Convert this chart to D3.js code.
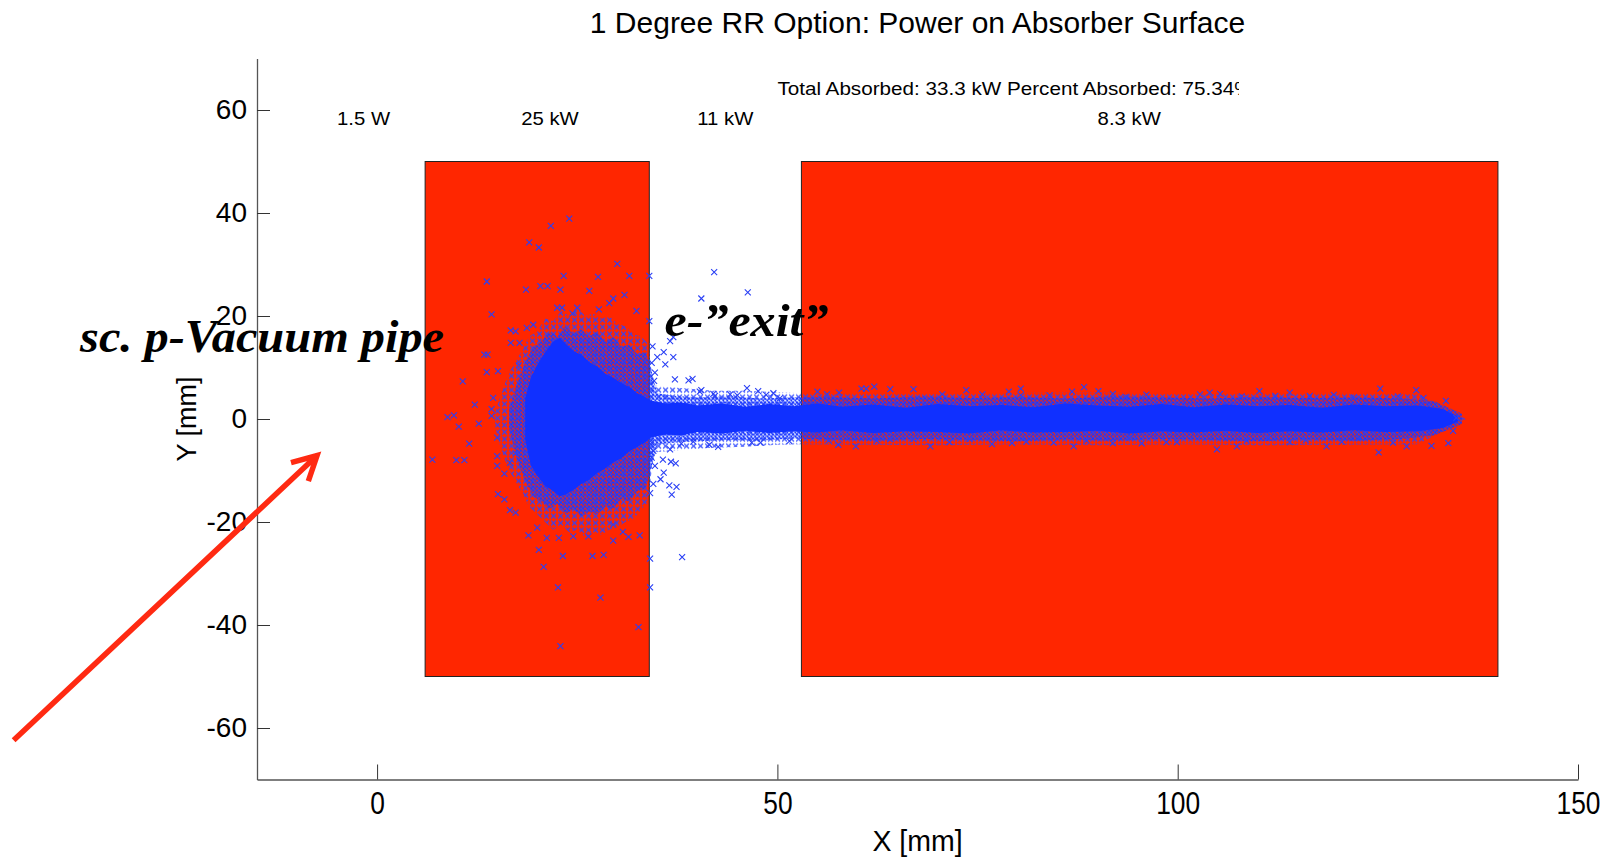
<!DOCTYPE html>
<html>
<head>
<meta charset="utf-8">
<script src="https://cdn.jsdelivr.net/npm/d3@7"></script>
<style>
  body { margin: 0; background: #fff; }
  svg { display: block; font-family: "Liberation Sans", Arial, sans-serif; }
</style>
</head>
<body>
<svg width="1610" height="860"></svg>
<script>
// absorber blocks [mm]
var blockX0 = [6, 53],
    blockX1 = [34, 140],
    blockY0 = [-50, -50],
    blockY1 = [50, 50];

var xTicks = [0, 50, 100, 150],
    yTicks = [-60, -40, -20, 0, 20, 40, 60];

var powerLabels = ['1.5 W', '25 kW', '11 kW', '8.3 kW'],
    powerLabelX = [-5, 18, 40, 90];

// where the hits pile up so thick they read as solid blue
var coreX  = [18.5, 19.2, 20, 21, 22, 22.8, 23.6, 24.5, 25.5, 26.5, 27.5, 28.5, 29.5, 30.5, 31.5, 32.5, 33.5, 34.2, 36, 38, 40, 43, 46, 49, 52, 55, 58, 62, 66, 70, 74, 78, 82, 86, 90, 94, 98, 102, 106, 110, 114, 118, 122, 126, 130, 133, 135],
    coreHi = [4, 8, 10.5, 13, 15, 15.8, 14.5, 13.2, 12.5, 11, 10.2, 8.8, 8, 7, 6.2, 5, 4.2, 3.6, 3, 3.2, 2.6, 3, 2.4, 2.9, 2.5, 3, 2.4, 2.8, 2.2, 2.9, 2.5, 2.7, 2.3, 3, 2.6, 2.4, 2.9, 2.3, 2.8, 2.5, 2.7, 2.2, 2.8, 2.5, 2.6, 2, 0.5],
    coreLo = [-4, -9, -11, -13, -14, -15, -14.6, -13.8, -12.6, -11.8, -10.5, -9.6, -8.4, -7.6, -6.3, -5.4, -4.5, -3.6, -3, -3.2, -2.5, -2.8, -2.3, -2.7, -2.4, -2.6, -2.2, -2.7, -2.4, -2.5, -2.8, -2.2, -2.6, -2.5, -2.3, -2.8, -2.4, -2.6, -2.3, -2.7, -2.4, -2.6, -2.2, -2.5, -2.4, -1.8, -0.5];

// thick overlapping crosses round the core
var midX  = [16.5, 17.5, 18.5, 19.5, 20.5, 21.5, 22.5, 23.5, 24.5, 25.5, 26.5, 27.5, 28.5, 29.5, 30.5, 31.5, 32.5, 33.5, 34, 35, 37, 40, 44, 48, 52, 56, 62, 68, 74, 80, 86, 92, 98, 104, 110, 116, 122, 128, 132, 135.5],
    midHi = [2, 7, 11, 14, 15, 17, 16, 18, 16.5, 17.5, 16, 17, 15, 16, 14, 14.5, 12.5, 13, 11, 5, 4.5, 4.2, 4.4, 4.0, 4.2, 4.3, 4.0, 4.4, 4.1, 4.3, 4.0, 4.4, 4.2, 4.0, 4.3, 4.1, 4.2, 4.0, 3.5, 1],
    midLo = [-2, -8, -12, -15, -16, -17.5, -16.5, -18.5, -17.5, -19, -18, -18.5, -17, -17.5, -15.5, -16, -14, -13.5, -11, -5, -4.6, -4.3, -4.1, -4.2, -3.8, -4.0, -4.2, -3.9, -4.1, -4.3, -4.0, -4.2, -3.9, -4.1, -4.3, -4.0, -4.2, -3.9, -3.2, -1];

// thin fringe of crosses
var haloX  = [14.5, 15.5, 16.5, 18, 19, 20, 21, 22, 23, 24, 25, 26, 27, 28, 29, 30, 31, 32, 33, 33.9, 34.5, 38, 42, 46, 50, 53, 60, 70, 80, 90, 100, 110, 120, 130, 136],
    haloHi = [0, 5, 9, 13, 16, 17, 19.5, 19, 21, 20, 21.5, 20, 20.5, 19.5, 20, 18.5, 18, 16.5, 16, 14.5, 6.5, 6, 5.5, 5.5, 5.2, 5, 5, 4.9, 5.1, 5.2, 4.9, 5, 5.1, 4.8, 0],
    haloLo = [0, -6, -10, -14, -17, -18.5, -20, -21.5, -20.5, -22, -21.5, -23, -22, -22.5, -21.5, -21, -20, -19.5, -17.5, -16, -6.5, -6, -5.6, -5.4, -5, -4.9, -5, -5.1, -4.9, -5.1, -4.9, -5.1, -5, -4.9, 0];

// single hits away from the cloud
var hitX = [21.7, 24.0, 19.0, 20.2, 30.0, 13.7, 23.3, 27.6, 31.5, 34.0, 18.6, 20.4, 21.3, 22.9, 26.5, 30.9, 14.3, 16.7, 29.0, 29.5,
            25.0, 22.5, 23.1, 24.4, 27.7, 32.4, 34.0, 16.7, 17.8, 18.7, 19.5, 17.3, 13.4, 13.8, 13.7, 15.1, 17.7, 10.7, 12.2, 14.5,
            14.3, 14.3, 8.8, 9.6, 10.2, 12.7, 11.5, 6.9, 9.9, 10.9, 15.0, 15.0, 15.0, 15.9, 15.1, 15.9, 16.6, 17.3, 16.6, 17.3,
            18.9, 20.0, 21.2, 22.7, 20.2, 20.8, 23.2, 26.9, 28.3, 22.6, 27.9, 32.65, 22.9, 34.1, 38.1, 34.1, 31.4, 32.8, 29.5, 30.7,
            24.5, 26.4, 29.5,
            42.1, 46.3, 40.5, 36.6, 37.0, 35.0, 35.8, 36.0, 37.0, 34.7, 37.2, 38.9, 39.4, 40.3, 46.2, 47.6, 48.6, 44.1, 42.0, 34.4,
            34.3, 34.6, 36.6, 36.7, 36.8, 36.5, 34.3, 34.7, 34.5, 35.8, 35.4, 35.7, 37.3, 37.4, 34.1, 34.3, 34.5,
            38.0, 39.5, 41.5, 42.6, 46.8, 47.9, 51.5, 40.5, 42.2, 45.0, 49.5, 50.3,
            62.1, 61.1, 60.5, 64.1, 67.0, 57.7, 55.0, 56.2, 70.6, 73.6, 75.6, 78.9, 80.4, 80.4, 86.8, 88.3, 90.1, 91.9,
            96.1, 104.0, 105.3, 108.0, 110.2, 112.2, 114.0, 116.5, 125.3, 129.8, 130.7, 133.5, 102.8, 84.0, 93.5, 119.5, 122.0, 127.5,
            56.4, 57.6, 59.8, 69.1, 79.3, 81.1, 87.0, 88.6, 91.9, 94.0, 76.8, 62.4, 64.1, 67.0, 71.5, 74.0,
            95.5, 98.6, 99.9, 104.9, 107.4, 108.6, 111.3, 114.0, 118.6, 122.7, 125.1, 126.9, 128.6, 131.7, 133.8, 134.8, 134.4,
            84.5, 116.0, 120.5],
    hitY = [37.5, 38.9, 34.3, 33.3, 30.1, 26.7, 27.8, 27.6, 27.8, 27.8, 25.1, 25.8, 25.8, 25.1, 24.9, 24.1, 20.3, 17.2, 22.5, 23.4,
            21.6, 21.6, 21.6, 20.5, 21.3, 21.0, 19.0, 14.8, 14.8, 17.7, 18.3, 17.0, 12.5, 12.5, 9.1, 9.3, 10.4, 7.3, 2.8, 4.1,
            1.9, 0.6, 0.35, 0.7, -1.5, -0.9, -4.8, -7.9, -8.0, -8.0, -3.6, -7.2, -9.1, -10.6, -14.6, -15.6, -17.7, -18.2, -8.5, -6.7,
            -22.6, -21.1, -23.1, -23.1, -25.4, -28.7, -26.6, -26.6, -26.4, -32.7, -34.7, -40.4, -44.1, -27.1, -26.8, -32.7, -22.9, -22.6, -20.5, -21.9,
            -22.8, -22.8, -23.6,
            28.5, 24.6, 23.4, 15.1, 15.9, 12.0, 13.0, 10.6, 12.0, 9.0, 7.7, 7.5, 7.8, 5.3, 6.0, 5.4, 4.7, 4.8, 4.9, 14.1,
            10.9, 7.4, -5.9, -8.3, -14.7, -12.9, -7.5, -9.1, -12.6, -10.4, -11.7, -7.9, -8.6, -13.2, -14.4, -4.6, -6.2,
            -4.8, -4.4, -5.0, -5.4, -4.6, -4.6, -4.3, 5.6, 4.5, 4.6, 5.0, 4.0,
            6.3, 5.9, 5.9, 5.8, 5.8, 5.1, 5.3, 4.8, 4.8, 5.6, 4.8, 5.3, 5.9, 4.6, 5.3, 6.2, 5.4, 4.9,
            4.75, 5.1, 4.9, 4.4, 5.4, 4.5, 5.1, 4.5, 5.9, 5.6, 4.1, 3.5, 4.8, 4.6, 4.3, 4.7, 4.2, 4.4,
            -4.2, -5.0, -5.3, -5.3, -4.7, -4.4, -5.3, -4.2, -4.7, -3.6, -4.9, -4.2, -3.9, -3.9, -4.5, -3.9,
            -4.75, -4.5, -4.5, -5.9, -5.3, -4.2, -3.6, -4.5, -5.3, -3.6, -6.5, -4.6, -5.3, -5.2, -4.7, 0.2, -2.3,
            -4.6, -4.1, -4.4];

// red arrow drawn over the figure, in axis units
var arrowX = [-45.4, -7.5],
    arrowY = [-62.4, -7.1];

var margin = {top: 58.5, left: 257, right: 32, bottom: 80},
    width = 1610 - margin.left - margin.right,
    height = 860 - margin.top - margin.bottom - 0.5;

var xScale = d3.scaleLinear().domain([-15, 150]).range([0, width]),
    yScale = d3.scaleLinear().domain([-70, 70]).range([height, 0]);

var svg = d3.select('svg');

var defs = svg.append('defs');
function crossPattern(id, tile, size, colour) {
  defs.append('pattern')
      .attr('id', id)
      .attr('width', tile).attr('height', tile)
      .attr('patternUnits', 'userSpaceOnUse')
    .append('path')
      .attr('d', 'M0,0L' + size + ',' + size + 'M' + size + ',0L0,' + size)
      .attr('stroke', colour)
      .attr('stroke-width', 1.1)
      .attr('fill', 'none');
}
crossPattern('sparse', 7, 5, '#2a44ff');
crossPattern('dense', 4, 4, '#1a38ff');

defs.append('clipPath')
    .attr('id', 'figclip')
  .append('rect')
    .attr('x', -margin.left).attr('y', -margin.top)
    .attr('width', 1239).attr('height', 860);

var g = svg.append('g')
    .attr('transform', 'translate(' + margin.left + ',' + margin.top + ')');

// axes, ticks pointing in
var plain = function(d) { return String(d); };
var xAxis = d3.axisBottom(xScale).tickValues(xTicks).tickFormat(plain)
              .tickSizeInner(-15).tickSizeOuter(0).tickPadding(12),
    yAxis = d3.axisLeft(yScale).tickValues(yTicks).tickFormat(plain)
              .tickSizeInner(-13).tickSizeOuter(0).tickPadding(10);

var gx = g.append('g')
    .attr('transform', 'translate(0,' + height + ')')
    .call(xAxis);
gx.selectAll('text')
    .style('font-size', '31px')
    .style('fill', '#000')
    .each(function() {
      var w = this.getComputedTextLength();
      d3.select(this).attr('textLength', w * 0.85).attr('lengthAdjust', 'spacingAndGlyphs');
    });

var gy = g.append('g').call(yAxis);
gy.selectAll('text').style('font-size', '28px').style('fill', '#000');

g.selectAll('.domain').attr('stroke', '#555').attr('stroke-width', 1.3);
g.selectAll('.tick line').attr('stroke', '#333').attr('stroke-width', 1);

g.append('text')
    .attr('x', width / 2)
    .attr('y', height + 71)
    .attr('text-anchor', 'middle')
    .style('font-size', '30px')
    .text('X [mm]')
    .each(function() {
      d3.select(this).attr('textLength', this.getComputedTextLength() * 0.95).attr('lengthAdjust', 'spacingAndGlyphs');
    });

g.append('text')
    .attr('transform', 'rotate(-90)')
    .attr('x', -height / 2)
    .attr('y', -61)
    .attr('text-anchor', 'middle')
    .style('font-size', '27px')
    .text('Y [mm]');

g.append('text')
    .attr('x', width / 2)
    .attr('y', -25.5)
    .attr('text-anchor', 'middle')
    .style('font-size', '30px')
    .text('1 Degree RR Option: Power on Absorber Surface');

// absorber blocks
g.selectAll('.block')
    .data(d3.range(blockX0.length))
    .enter().append('rect')
    .attr('class', 'block')
    .attr('x', function(i) { return xScale(blockX0[i]); })
    .attr('y', function(i) { return yScale(blockY1[i]); })
    .attr('width', function(i) { return xScale(blockX1[i]) - xScale(blockX0[i]); })
    .attr('height', function(i) { return yScale(blockY0[i]) - yScale(blockY1[i]); })
    .attr('fill', '#ff2600')
    .attr('stroke', '#222')
    .attr('stroke-width', 1);

// hit cloud, from the thin fringe inwards
function band(xs, lo, hi, fill) {
  var area = d3.area()
      .x(function(i) { return xScale(xs[i]); })
      .y0(function(i) { return yScale(lo[i]); })
      .y1(function(i) { return yScale(hi[i]); });
  g.append('path')
      .datum(d3.range(xs.length))
      .attr('d', area)
      .attr('fill', fill);
}
band(haloX, haloLo, haloHi, 'url(#sparse)');
band(midX, midLo, midHi, 'url(#dense)');
band(coreX, coreLo, coreHi, '#1030ff');

g.selectAll('.hit')
    .data(d3.range(hitX.length))
    .enter().append('path')
    .attr('class', 'hit')
    .attr('d', 'M-3,-3L3,3M3,-3L-3,3')
    .attr('transform', function(i) { return 'translate(' + xScale(hitX[i]) + ',' + yScale(hitY[i]) + ')'; })
    .attr('stroke', '#2a40f5')
    .attr('stroke-width', 1.1)
    .attr('fill', 'none');

// power labels
g.selectAll('.plabel')
    .data(d3.range(powerLabels.length))
    .enter().append('text')
    .attr('class', 'plabel')
    .attr('x', function(i) { return xScale(powerLabelX[i]); })
    .attr('y', yScale(57.1))
    .style('font-size', '17.5px')
    .text(function(i) { return powerLabels[i]; })
    .each(function() {
      d3.select(this).attr('textLength', this.getComputedTextLength() * 1.16).attr('lengthAdjust', 'spacingAndGlyphs');
    });

g.append('text')
    .attr('x', xScale(50))
    .attr('y', yScale(63))
    .attr('clip-path', 'url(#figclip)')
    .style('font-size', '17.5px')
    .text('Total Absorbed: 33.3 kW Percent Absorbed: 75.34%')
    .each(function() {
      d3.select(this).attr('textLength', this.getComputedTextLength() * 1.18).attr('lengthAdjust', 'spacingAndGlyphs');
    });

// slide annotations
g.append('text')
    .attr('x', xScale(-37.1))
    .attr('y', yScale(13.1))
    .style('font-family', '"Liberation Serif", "Times New Roman", serif')
    .style('font-weight', 'bold')
    .style('font-style', 'italic')
    .style('font-size', '47px')
    .attr('textLength', 364)
    .attr('lengthAdjust', 'spacingAndGlyphs')
    .text('sc. p-Vacuum pipe');

g.append('text')
    .attr('x', xScale(35.9))
    .attr('y', yScale(16.2))
    .style('font-family', '"Liberation Serif", "Times New Roman", serif')
    .style('font-weight', 'bold')
    .style('font-style', 'italic')
    .style('font-size', '47px')
    .attr('textLength', 164)
    .attr('lengthAdjust', 'spacingAndGlyphs')
    .text('e-\u201Dexit\u201D');

var ax0 = xScale(arrowX[0]), ay0 = yScale(arrowY[0]),
    ax1 = xScale(arrowX[1]), ay1 = yScale(arrowY[1]),
    ang = Math.atan2(ay0 - ay1, ax0 - ax1),
    headLen = 27, spread = 28 * Math.PI / 180;

g.append('path')
    .attr('d', 'M' + ax0 + ',' + ay0 + 'L' + ax1 + ',' + ay1 +
               'M' + (ax1 + headLen * Math.cos(ang + spread)) + ',' + (ay1 + headLen * Math.sin(ang + spread)) +
               'L' + ax1 + ',' + ay1 +
               'L' + (ax1 + headLen * Math.cos(ang - spread)) + ',' + (ay1 + headLen * Math.sin(ang - spread)))
    .attr('fill', 'none')
    .attr('stroke', '#ff2a12')
    .attr('stroke-width', 5.5);
</script>
</body>
</html>
